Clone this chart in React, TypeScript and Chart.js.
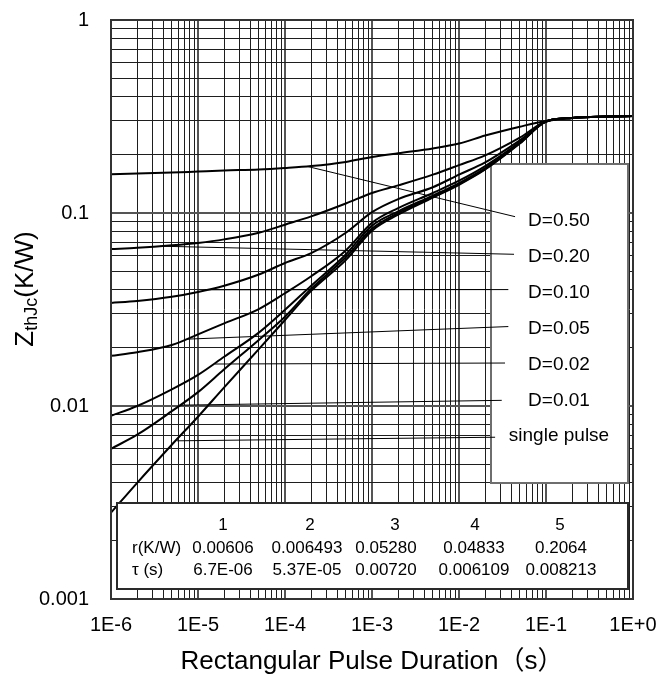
import React, { useEffect, useRef } from 'react';
import { Chart, registerables } from 'chart.js';

Chart.register(...registerables);

const FONT = "'Liberation Sans', Arial, 'Noto Sans CJK SC', sans-serif";

const durations = [1e-6, 2e-6, 5e-6, 1e-5, 2e-5, 5e-5, 1e-4, 2e-4, 5e-4, 1e-3, 2e-3, 5e-3, 1e-2, 2e-2, 5e-2, 1e-1, 2e-1, 5e-1, 1];

// Zth,jc (K/W) per duty cycle
const zD050 = [0.159, 0.160, 0.162, 0.164, 0.166, 0.168, 0.171, 0.175, 0.184, 0.195, 0.204, 0.216, 0.229, 0.252, 0.280, 0.300, 0.311, 0.316, 0.318];
const zD020 = [0.065, 0.066, 0.068, 0.070, 0.073, 0.079, 0.087, 0.096, 0.112, 0.127, 0.139, 0.158, 0.177, 0.199, 0.246, 0.299, 0.311, 0.316, 0.318];
const zD010 = [0.0342, 0.0350, 0.0368, 0.0390, 0.0420, 0.0480, 0.0551, 0.0620, 0.079, 0.101, 0.118, 0.136, 0.158, 0.183, 0.238, 0.298, 0.311, 0.316, 0.318];
const zD005 = [0.0182, 0.0190, 0.0207, 0.0235, 0.0268, 0.0318, 0.0384, 0.0470, 0.0640, 0.089, 0.106, 0.127, 0.147, 0.175, 0.233, 0.298, 0.311, 0.316, 0.318];
const zD002 = [0.0089, 0.0100, 0.0122, 0.0145, 0.0180, 0.0240, 0.0315, 0.0420, 0.0610, 0.086, 0.102, 0.123, 0.143, 0.171, 0.231, 0.298, 0.311, 0.316, 0.318];
const zD001 = [0.0060, 0.0071, 0.0094, 0.0118, 0.0155, 0.0220, 0.0290, 0.0405, 0.0590, 0.083, 0.100, 0.121, 0.141, 0.169, 0.230, 0.298, 0.311, 0.316, 0.318];
const zSingle = [0.0028, 0.0040, 0.0063, 0.0088, 0.0125, 0.0197, 0.0279, 0.0395, 0.0570, 0.081, 0.098, 0.120, 0.140, 0.168, 0.229, 0.298, 0.311, 0.316, 0.318];

const seriesNames = ['D=0.50', 'D=0.20', 'D=0.10', 'D=0.05', 'D=0.02', 'D=0.01', 'single pulse'];
const seriesValues = [zD050, zD020, zD010, zD005, zD002, zD001, zSingle];

// Leader lines from each curve to its label (data units)
const leaderStartT = [1.79e-4, 3.66e-6, 1.2e-5, 7.48e-6, 1.57e-5, 6.2e-6, 5.74e-6];
const leaderStartZ = [0.1745, 0.0673, 0.0400, 0.0222, 0.0165, 0.0101, 0.0066];
const leaderEndT = [0.0441, 0.0429, 0.0369, 0.0369, 0.0338, 0.0310, 0.0260];
const leaderEndZ = [0.0957, 0.0611, 0.0401, 0.0258, 0.0167, 0.0107, 0.00689];

// Axis ticks
const xDecades = [1e-6, 1e-5, 1e-4, 1e-3, 1e-2, 1e-1, 1];
const xTickLabels = ['1E-6', '1E-5', '1E-4', '1E-3', '1E-2', '1E-1', '1E+0'];
const yDecades = [0.001, 0.01, 0.1, 1];
const yTickLabels = ['0.001', '0.01', '0.1', '1'];

// Foster model table
const tableHeader = ['1', '2', '3', '4', '5'];
const tableRLabel = 'r(K/W)';
const tableR = ['0.00606', '0.006493', '0.05280', '0.04833', '0.2064'];
const tableTauLabel = 'τ (s)';
const tableTau = ['6.7E-06', '5.37E-05', '0.00720', '0.006109', '0.008213'];

const xTitle = 'Rectangular Pulse Duration（s）';
const yTitleMain = 'Z';
const yTitleSub = 'thJc';
const yTitleUnit = '(K/W)';

function logGridTicks(decades: number[]) {
  const out: { value: number; major: boolean }[] = [];
  for (let i = 0; i < decades.length; i++) {
    const d = decades[i];
    out.push({ value: d, major: true });
    if (i < decades.length - 1) {
      for (let m = 2; m <= 9; m++) out.push({ value: m * d, major: false });
    }
  }
  return out;
}

function decadeLabel(value: number, decades: number[], labels: string[]) {
  const i = decades.findIndex((d) => Math.abs(Math.log10(d) - Math.log10(value)) < 1e-6);
  return i >= 0 ? labels[i] : '';
}

const overlayPlugin = {
  id: 'overlay',
  beforeDatasetsDraw(chart: any) {
    const ctx = chart.ctx;
    const ca = chart.chartArea;
    // legend box (labels)
    const bx = ca.right - 142;
    const by = ca.top + 144;
    const bw = 137;
    const bh = 319;
    ctx.save();
    ctx.fillStyle = '#ffffff';
    ctx.fillRect(bx, by, bw, bh);
    ctx.strokeStyle = '#6e6e6e';
    ctx.lineWidth = 2;
    ctx.strokeRect(bx, by, bw, bh);
    ctx.fillStyle = '#000';
    ctx.font = `19px ${FONT}`;
    ctx.textAlign = 'center';
    ctx.textBaseline = 'middle';
    seriesNames.forEach((name, i) => {
      ctx.fillText(name, bx + 68, by + 56.5 + i * 36 - (i === 6 ? 1 : 0));
    });
    ctx.restore();
  },
  afterDatasetsDraw(chart: any) {
    const ctx = chart.ctx;
    const ca = chart.chartArea;
    // table box
    const tx = ca.left + 6;
    const ty = ca.bottom - 96;
    const tw = ca.right - 5 - tx;
    const th = 86;
    ctx.save();
    ctx.fillStyle = '#ffffff';
    ctx.fillRect(tx, ty, tw, th);
    ctx.strokeStyle = '#2a2a2a';
    ctx.lineWidth = 2;
    ctx.strokeRect(tx, ty, tw, th);
    ctx.fillStyle = '#000';
    ctx.font = `17px ${FONT}`;
    ctx.textBaseline = 'middle';
    const headerX = [223, 310, 395, 475, 560];
    const colX = [223, 307, 386, 474, 561];
    ctx.textAlign = 'center';
    tableHeader.forEach((s, i) => ctx.fillText(s, headerX[i], ty + 22));
    tableR.forEach((s, i) => ctx.fillText(s, colX[i], ty + 45));
    tableTau.forEach((s, i) => ctx.fillText(s, colX[i], ty + 67));
    ctx.textAlign = 'left';
    ctx.fillText(tableRLabel, 132, ty + 45);
    ctx.fillText(tableTauLabel, 132, ty + 67);
    ctx.restore();
  },
  afterDraw(chart: any) {
    const ctx = chart.ctx;
    const ca = chart.chartArea;
    ctx.save();
    // frame
    ctx.strokeStyle = '#333';
    ctx.lineWidth = 2;
    ctx.strokeRect(ca.left, ca.top, ca.right - ca.left, ca.bottom - ca.top);
    // x title
    ctx.fillStyle = '#000';
    ctx.font = `26px ${FONT}`;
    ctx.textAlign = 'center';
    ctx.textBaseline = 'alphabetic';
    ctx.fillText(xTitle, (ca.left + ca.right) / 2, 669);
    // y title (rotated, with subscript)
    const mainFont = `26px ${FONT}`;
    const subFont = `18px ${FONT}`;
    ctx.font = mainFont;
    const wMain = ctx.measureText(yTitleMain).width;
    const wUnit = ctx.measureText(yTitleUnit).width;
    ctx.font = subFont;
    const wSub = ctx.measureText(yTitleSub).width;
    const total = wMain + wSub + wUnit;
    const cy = 289;
    ctx.translate(33, cy + total / 2);
    ctx.rotate(-Math.PI / 2);
    ctx.textAlign = 'left';
    ctx.font = mainFont;
    ctx.fillText(yTitleMain, 0, 0);
    ctx.font = subFont;
    ctx.fillText(yTitleSub, wMain, 4);
    ctx.font = mainFont;
    ctx.fillText(yTitleUnit, wMain + wSub, 0);
    ctx.restore();
  },
};

const TARGET = { left: 111, top: 20, right: 633, bottom: 599 };

export default function App() {
  const canvasRef = useRef<HTMLCanvasElement | null>(null);

  useEffect(() => {
    if (!canvasRef.current) return;
    const datasets: any[] = [
      ...seriesValues.map((vals, k) => ({
        label: seriesNames[k],
        data: durations.map((t, i) => ({ x: t, y: vals[i] })),
        borderColor: '#000',
        borderWidth: 2,
        pointRadius: 0,
        fill: false,
        cubicInterpolationMode: 'monotone',
      })),
      ...seriesNames.map((name, k) => ({
        label: name + ' leader',
        data: [
          { x: leaderStartT[k], y: leaderStartZ[k] },
          { x: leaderEndT[k], y: leaderEndZ[k] },
        ],
        borderColor: '#000',
        borderWidth: 1,
        pointRadius: 0,
        fill: false,
      })),
    ];

    const gridColor = (c: any) => (c.tick && c.tick.major ? '#555' : '#1e1e1e');
    const gridWidth = (c: any) => (c.tick && c.tick.major ? 2 : 1);

    const pad = { top: 20, right: 27, left: 0, bottom: 0 };

    const chart = new Chart(canvasRef.current, {
      type: 'line',
      data: { datasets },
      options: {
        animation: false,
        responsive: false,
        devicePixelRatio: 1,
        layout: { padding: { ...pad } },
        plugins: { legend: { display: false }, tooltip: { enabled: false }, title: { display: false } },
        scales: {
          x: {
            type: 'logarithmic',
            min: 1e-6,
            max: 1,
            afterBuildTicks: (scale: any) => {
              scale.ticks = logGridTicks(xDecades);
            },
            afterFit: (scale: any) => {
              scale.height = 81;
              scale.paddingLeft = 0;
              scale.paddingRight = 0;
              scale.paddingTop = 0;
              scale.paddingBottom = 0;
            },
            ticks: {
              autoSkip: false,
              maxRotation: 0,
              padding: 14,
              color: '#000',
              font: { family: FONT, size: 20 },
              callback: (v: any) => decadeLabel(Number(v), xDecades, xTickLabels),
            },
            grid: { color: gridColor, lineWidth: gridWidth, drawTicks: false },
            border: { display: false },
          },
          y: {
            type: 'logarithmic',
            min: 0.001,
            max: 1,
            afterBuildTicks: (scale: any) => {
              scale.ticks = logGridTicks(yDecades);
            },
            afterFit: (scale: any) => {
              scale.width = 111;
              scale.paddingLeft = 0;
              scale.paddingRight = 0;
              scale.paddingTop = 0;
              scale.paddingBottom = 0;
            },
            ticks: {
              autoSkip: false,
              padding: 22,
              color: '#000',
              font: { family: FONT, size: 20 },
              callback: (v: any) => decadeLabel(Number(v), yDecades, yTickLabels),
            },
            grid: { color: gridColor, lineWidth: gridWidth, drawTicks: false },
            border: { display: false },
          },
        },
      } as any,
      plugins: [overlayPlugin],
    });

    // nudge layout padding so the plot area lands where the reference has it
    for (let iter = 0; iter < 5; iter++) {
      const ca = chart.chartArea;
      const dT = TARGET.top - ca.top;
      const dL = TARGET.left - ca.left;
      const dR = ca.right - TARGET.right;
      const dB = ca.bottom - TARGET.bottom;
      if (Math.abs(dT) < 0.5 && Math.abs(dL) < 0.5 && Math.abs(dR) < 0.5 && Math.abs(dB) < 0.5) break;
      pad.top += dT;
      pad.left += dL;
      pad.right += dR;
      pad.bottom += dB;
      (chart.config.options as any).layout = { padding: { ...pad } };
      chart.update();
    }

    return () => chart.destroy();
  }, []);

  return (
    <div style={{ position: 'absolute', left: 0, top: 0, width: 660, height: 680, background: '#fff' }}>
      <canvas ref={canvasRef} width={660} height={680} style={{ display: 'block' }} />
    </div>
  );
}
